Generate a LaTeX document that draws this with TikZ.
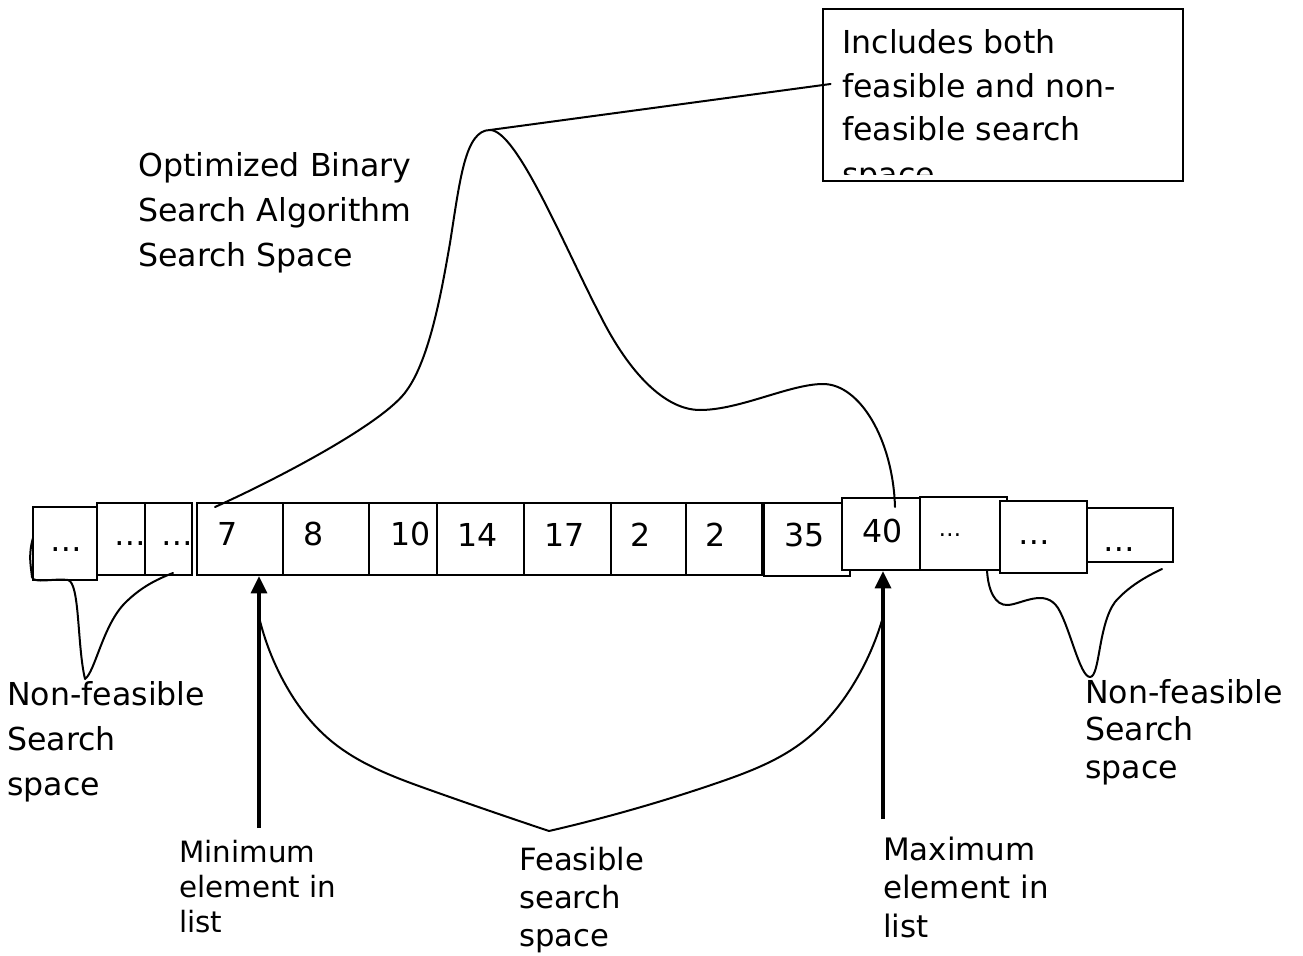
\documentclass[tikz,border=0pt]{standalone}
\usepackage{fontspec}
\setmainfont{DejaVu Sans}
\usetikzlibrary{arrows.meta,calc,hobby}

\tikzset{
  cell/.style={draw, fill=white, line width=1.6pt, inner sep=0pt},
  val/.style={font=\fontsize{23.7pt}{28pt}\selectfont, inner sep=0pt, anchor=base},
  smallval/.style={font=\fontsize{17pt}{20pt}\selectfont, inner sep=0pt, anchor=base},
  lbl/.style={inner sep=0pt, anchor=base west, align=left},
  curve/.style={line width=1.5pt, line join=round, line cap=round},
  pointer/.style={line width=2.5pt, -{Triangle[length=13pt,width=12pt]}},
  calloutbox/.style={draw, line width=2.1pt, inner sep=0pt, minimum width=270pt, minimum height=129pt}
}

\begin{document}
\begin{tikzpicture}[x=0.75pt, y=-0.75pt]
\useasboundingbox (0,0) rectangle (1303,956);

% ---- the list cells, left to right (later cells overlap earlier ones)
\node[cell, minimum width=48pt,    minimum height=54.75pt] (L1)  at (65,543.5)   {};
\node[cell, minimum width=36pt,    minimum height=54pt]    (L2)  at (121,539)    {};
\node[cell, minimum width=35.25pt, minimum height=54pt]    (L3)  at (168.5,539)  {};
\node[cell, minimum width=64.5pt,  minimum height=54pt]    (c7)  at (240,539)    {};
\node[cell, minimum width=64.5pt,  minimum height=54pt]    (c8)  at (326,539)    {};
\node[cell, minimum width=66pt,    minimum height=54pt]    (c10) at (413,539)    {};
\node[cell, minimum width=65.25pt, minimum height=54pt]    (c14) at (480.5,539)  {};
\node[cell, minimum width=65.25pt, minimum height=54pt]    (c17) at (567.5,539)  {};
\node[cell, minimum width=56.25pt, minimum height=54pt]    (c2a) at (648.5,539)  {};
\node[cell, minimum width=57pt,    minimum height=54pt]    (c2b) at (724,539)    {};
\node[cell, minimum width=64.5pt,  minimum height=54.75pt] (c35) at (807,539.5)  {};
\node[cell, minimum width=58.5pt,  minimum height=54pt]    (c40) at (881,534)    {};
\node[cell, minimum width=65.25pt, minimum height=54.75pt] (R2)  at (963.5,533.5){};
\node[cell, minimum width=65.25pt, minimum height=54pt]    (R3)  at (1043.5,537) {};
\node[cell, minimum width=64.5pt,  minimum height=40.5pt]  (R4)  at (1130,535)   {};

% ---- cell contents
\node[val] (tL1) at (66,551)    {…};
\node[val] (tL2) at (130.5,545) {…};
\node[val] (tL3) at (177.5,545) {…};
\node[val] (t7)  at (227.5,545) {7};
\node[val] (t8)  at (313.5,545) {8};
\node[val] (t10) at (410.5,545) {10};
\node[val] (t14) at (478,546)   {14};
\node[val] (t17) at (565,546)   {17};
\node[val] (t2a) at (641,546)   {2};
\node[val] (t2b) at (716,546)   {2};
\node[val] (t35) at (804.5,546) {35};
\node[val] (t40) at (882.5,542) {40};
\node[smallval] (tR2) at (950,536) {…};
\node[val] (tR3) at (1034,544)  {…};
\node[val] (tR4) at (1119.5,551){…};

% ---- labels (anchored at the baseline of their last line)
\node[lbl, font=\fontsize{23.7pt}{33.75pt}\selectfont] (title) at (138,266)
  {Optimized Binary\\Search Algorithm\\Search Space};
\node[lbl, font=\fontsize{23.7pt}{33.4pt}\selectfont] (nfleft) at (7,795)
  {Non-feasible\\Search\\space};
\node[lbl, font=\fontsize{23.7pt}{28pt}\selectfont] (nfright) at (1085,778)
  {Non-feasible\\Search\\space};
\node[lbl, font=\fontsize{22pt}{26pt}\selectfont] (minlbl) at (179,932)
  {Minimum\\element in\\list};
\node[lbl, font=\fontsize{23pt}{28.5pt}\selectfont] (feas) at (519,946)
  {Feasible\\search\\space};
\node[lbl, font=\fontsize{23.2pt}{28.75pt}\selectfont] (maxlbl) at (883,937)
  {Maximum\\element in\\list};

% ---- callout box, its text cut off at the inner margin
\begin{scope}
  \clip (826,12) rectangle (1180,174);
  \node[lbl, font=\fontsize{23.7pt}{33pt}\selectfont] (calltext) at (842,185)
    {Includes both\\feasible and non-\\feasible search\\space};
\end{scope}
\node[calloutbox] (callout) at (1003,95) {};

% ---- whole search space: hump from 7 to 40
\coordinate (humpL) at (215,507);
\coordinate (peak)  at (490,130);
\coordinate (humpR) at (895,507);
\draw[curve]
  (humpL) .. controls (275,480) and (385,423) .. (407,390)
          .. controls (430,358) and (442,289) .. (450,243)
          .. controls (460,180) and (465,130) .. (peak)
          .. controls (517,130) and (565,248) .. (600,315)
          .. controls (629,373) and (665,410) .. (700,410)
          .. controls (740,410) and (790,384) .. (823,384)
          .. controls (860,384) and (893,440) .. (humpR);
\draw[curve] (peak) -- ($(callout.west)+(9,-11)$);

% ---- minimum / maximum pointers
\coordinate (minfoot) at (259,828);
\coordinate (maxfoot) at (883,819);
\draw[pointer] (minfoot) -- (minfoot |- c7.south);
\draw[pointer] (maxfoot) -- (maxfoot |- c40.south);

% ---- feasible region brace
\coordinate (fL) at (259,617);
\coordinate (fV) at (549,831);
\coordinate (fR) at (883,617);
\draw[curve, use Hobby shortcut]
  (fL) .. (284,682) .. (330,740) .. (430,790) .. (fV);
\draw[curve, use Hobby shortcut]
  (fV) .. (717,783) .. (800,744) .. (856,680) .. (fR);

% ---- non-feasible braces
\draw[curve]
  (33,538) .. controls (28,555) and (31,567) .. (32,577)
           .. controls (33,584) and (55,578) .. (68,580)
           .. controls (80,583) and (77,645) .. (85,679)
           .. controls (95,672) and (103,625) .. (125,603)
           .. controls (140,588) and (155,580) .. (173,573);
\draw[curve]
  (987,570) .. controls (988,590) and (995,606) .. (1008,605)
            .. controls (1022,604) and (1045,588) .. (1058,608)
            .. controls (1070,628) and (1080,677) .. (1090,677)
            .. controls (1100,677) and (1098,625) .. (1115,602)
            .. controls (1128,587) and (1145,577) .. (1162,569);
\end{tikzpicture}
\end{document}
